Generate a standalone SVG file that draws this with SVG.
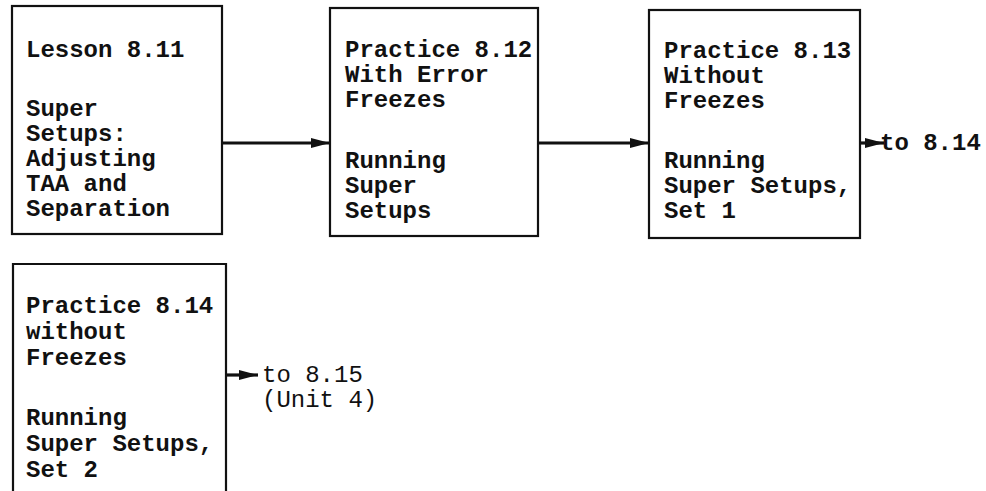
<svg xmlns="http://www.w3.org/2000/svg" width="986" height="491" viewBox="0 0 986 491">
<style>
.box{fill:none;stroke:#111;stroke-width:2.2}
.t{font-family:"Liberation Mono","Courier New",monospace;font-size:24px;font-weight:bold;fill:#111}
.n{font-family:"Liberation Mono","Courier New",monospace;font-size:24px;fill:#111}
.c{stroke:#111;stroke-width:3.2;fill:none;marker-end:url(#ah)}
</style>
<defs>
<marker id="ah" markerUnits="userSpaceOnUse" markerWidth="20" markerHeight="12" refX="19" refY="6" orient="auto">
<path d="M0,1 L19,6 L0,11 Z" fill="#111"/>
</marker>
</defs>
<rect width="986" height="491" fill="#fff"/>
<g id="connectors">
<line class="c" x1="222" y1="143" x2="330" y2="143"/>
<line class="c" x1="538" y1="143" x2="649" y2="143"/>
<line class="c" x1="860" y1="143" x2="884" y2="143"/>
<line class="c" x1="226" y1="375" x2="258" y2="375"/>
</g>
<g id="n811">
<rect class="box" x="12" y="6" width="210" height="228"/>
<text class="t" x="26" y="57">Lesson 8.11</text>
<text class="t" x="26" y="116">Super</text>
<text class="t" x="26" y="141">Setups:</text>
<text class="t" x="26" y="166">Adjusting</text>
<text class="t" x="26" y="191">TAA and</text>
<text class="t" x="26" y="216">Separation</text>
</g>
<g id="n812">
<rect class="box" x="330" y="8" width="208" height="228"/>
<text class="t" x="345" y="57">Practice 8.12</text>
<text class="t" x="345" y="82">With Error</text>
<text class="t" x="345" y="107">Freezes</text>
<text class="t" x="345" y="168">Running</text>
<text class="t" x="345" y="193">Super</text>
<text class="t" x="345" y="218">Setups</text>
</g>
<g id="n813">
<rect class="box" x="649" y="10" width="211" height="228"/>
<text class="t" x="664" y="58">Practice 8.13</text>
<text class="t" x="664" y="83">Without</text>
<text class="t" x="664" y="108">Freezes</text>
<text class="t" x="664" y="168">Running</text>
<text class="t" x="664" y="193">Super Setups,</text>
<text class="t" x="664" y="218">Set 1</text>
</g>
<g id="to814">
<text class="t" x="880" y="150">to 8.14</text>
</g>
<g id="n814">
<path class="box" d="M13,491 L13,264 L226,264 L226,491"/>
<text class="t" x="26" y="313">Practice 8.14</text>
<text class="t" x="26" y="339">without</text>
<text class="t" x="26" y="365">Freezes</text>
<text class="t" x="26" y="425">Running</text>
<text class="t" x="26" y="451">Super Setups,</text>
<text class="t" x="26" y="477">Set 2</text>
</g>
<g id="to815">
<text class="n" x="262" y="382">to 8.15</text>
<text class="n" x="262" y="407">(Unit 4)</text>
</g>
</svg>
